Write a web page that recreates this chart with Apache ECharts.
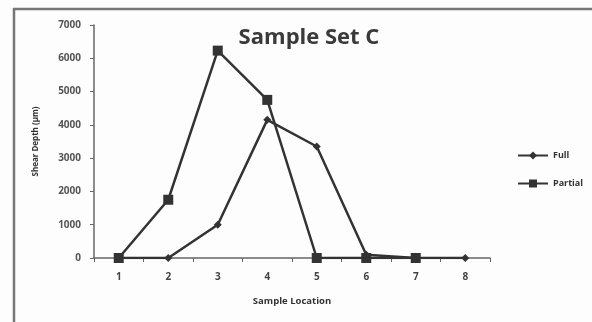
<!DOCTYPE html>
<html><head><meta charset="utf-8">
<script src="https://cdn.jsdelivr.net/npm/echarts@6/dist/echarts.min.js"></script>
<style>html,body{margin:0;padding:0;background:#fff}#c{width:592px;height:322px}</style>
</head><body><div id="c"></div>
<script>
var categories = ['1','2','3','4','5','6','7','8'];
var fullValues = [0, 0, 1000, 4150, 3350, 100, 0, 0];
var partialValues = [0, 1750, 6230, 4750, 0, 0, 0, null];
var yTicks = [0, 1000, 2000, 3000, 4000, 5000, 6000, 7000];

var chart = echarts.init(document.getElementById('c'), null, {renderer: 'canvas'});
var dark = '#333';
chart.setOption({
  backgroundColor: '#fdfdfd',
  animation: false,
  title: {
    text: 'Sample Set C', left: 304, top: 22, textAlign: 'center',
    textStyle: {fontFamily: 'Open Sans', fontWeight: 'bold', fontSize: 22, color: '#3a3a3a'}
  },
  legend: {
    orient: 'vertical', left: 512, top: 146, itemWidth: 30, itemHeight: 10, itemGap: 19,
    textStyle: {fontFamily: 'Open Sans', fontSize: 9, fontWeight: 'bold', color: '#333'},
    data: ['Full', 'Partial']
  },
  graphic: [
    {type: 'line', shape: {x1: 13, y1: 9, x2: 592, y2: 9}, style: {stroke: '#777', lineWidth: 2.5}},
    {type: 'line', shape: {x1: 14, y1: 8, x2: 14, y2: 322}, style: {stroke: '#777', lineWidth: 2.5}}
  ],
  grid: {left: 94, top: 25, right: 102, bottom: 64},
  xAxis: {
    type: 'category', data: categories, boundaryGap: true,
    name: 'Sample Location', nameLocation: 'middle', nameGap: 38,
    nameTextStyle: {fontFamily: 'Open Sans', fontWeight: 'bold', fontSize: 9.5, color: '#333'},
    axisLine: {lineStyle: {color: '#666', width: 1.5}},
    axisTick: {show: true, length: 4, lineStyle: {color: '#666'}},
    axisLabel: {fontFamily: 'Open Sans', fontSize: 10, fontWeight: 'bold', color: '#444', margin: 14}
  },
  yAxis: {
    type: 'value', min: yTicks[0], max: yTicks[yTicks.length - 1], interval: 1000,
    name: 'Shear Depth (µm)', nameLocation: 'middle', nameGap: 54, nameRotate: 90,
    nameTextStyle: {fontFamily: 'Open Sans', fontWeight: 'bold', fontSize: 8, color: '#333'},
    splitLine: {show: false},
    axisLine: {show: true, lineStyle: {color: '#666', width: 1.5}},
    axisTick: {show: true, length: 4, lineStyle: {color: '#666'}},
    axisLabel: {fontFamily: 'Open Sans', fontSize: 10, fontWeight: 'bold', color: '#555', margin: 13,
      formatter: function (v) { return String(v); }}
  },
  series: [
    {name: 'Full', type: 'line', data: fullValues, symbol: 'diamond', symbolSize: 8,
     itemStyle: {color: dark}, lineStyle: {color: dark, width: 2.5}, z: 2},
    {name: 'Partial', type: 'line', data: partialValues, symbol: 'rect', symbolSize: 10,
     itemStyle: {color: dark}, lineStyle: {color: dark, width: 2.5}, z: 3}
  ]
});
</script></body></html>
